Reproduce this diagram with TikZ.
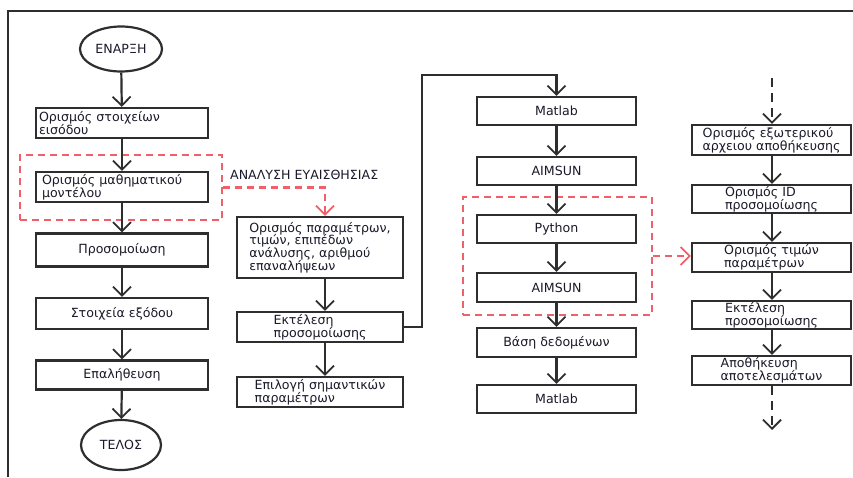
\documentclass[tikz,border=0pt]{standalone}
\usepackage{fontspec}
\setmainfont{DejaVu Sans}
\usetikzlibrary{arrows.meta,shapes.geometric}
\definecolor{ln}{HTML}{2E2E2E}
\definecolor{rd}{HTML}{F0606A}
\definecolor{tx}{HTML}{1A1A2A}
\begin{document}
\begin{tikzpicture}[x=1pt,y=-1pt,
  every node/.style={text=tx},
  fnt/.style={font=\fontsize{12.6}{12.8}\selectfont},
  box/.style={draw=ln, line width=2.2pt, fill=white, inner sep=1pt, align=left, fnt},
  term/.style={draw=ln, line width=2.2pt, ellipse, inner sep=0pt, fnt},
  tip/.style={-{Straight Barb[length=9pt,width=18pt,line width=1.8pt]}},
  arr/.style={draw=ln, line width=2.2pt, tip},
  rbox/.style={draw=rd, line width=2.2pt, dash pattern=on 7pt off 5pt, inner sep=0pt},
  rarr/.style={draw=rd, line width=2.2pt, dash pattern=on 7pt off 5pt, tip},
  darr/.style={draw=ln, line width=2.2pt, dash pattern=on 9pt off 6pt, tip}
]
\useasboundingbox (0,0) rectangle (853,477);
% frame
\draw[ln, line width=2.4pt] (8,477) -- (8,11) -- (853,11);

% left column
\node[term, minimum width=82pt, minimum height=45pt] (start) at (121,49) {ΕΝΑΡΞΗ};
\node[rbox, minimum width=202pt, minimum height=65pt] (red1) at (121,187.5) {};
\node[box, minimum width=172pt, minimum height=30pt, text width=166pt] (l1) at (122,123) {Ορισμός στοιχείων\\εισόδου};
\node[box, minimum width=172pt, minimum height=30pt, text width=166pt] (l2) at (122,187) {\hspace*{3pt}Ορισμός μαθηματικού\\\hspace*{3pt}μοντέλου};
\node[box, minimum width=172pt, minimum height=33pt, align=center] (l3) at (122,250) {Προσομοίωση};
\node[box, minimum width=172pt, minimum height=31pt, align=center] (l4) at (122,313.5) {Στοιχεία εξόδου};
\node[box, minimum width=172pt, minimum height=29pt, align=center] (l5) at (122,375) {Επαλήθευση};
\node[term, minimum width=80pt, minimum height=50pt] (end) at (121,445) {ΤΕΛΟΣ};

\draw[arr] (start) -- (l1);
\draw[arr] (l1) -- (l2);
\draw[arr] (l2) -- (l3);
\draw[arr] (l3) -- (l4);
\draw[arr] (l4) -- (l5);
\draw[arr] (l5) -- (end);

% middle column
\node[fnt, anchor=west, inner sep=0pt] (lbl) at (230,175) {ΑΝΑΛΥΣΗ ΕΥΑΙΣΘΗΣΙΑΣ};
\node[box, minimum width=166pt, minimum height=61pt] (m1) at (320,247.5) {Ορισμός παραμέτρων,\\τιμών, επιπέδων\\ανάλυσης, αριθμού\\επαναλήψεων};
\node[box, minimum width=166pt, minimum height=30pt] (m2) at (320,327) {Εκτέλεση\\προσομοίωσης};
\node[box, minimum width=166pt, minimum height=30pt] (m3) at (320,392) {Επιλογή σημαντικών\\παραμέτρων};
\draw[rarr] (red1.east) -| ([xshift=5pt]m1.north);
\draw[arr] ([xshift=5pt]m1.south) -- ([xshift=5pt]m2.north);
\draw[arr] ([xshift=5pt]m2.south) -- ([xshift=5pt]m3.north);

% third column
\node[rbox, minimum width=189pt, minimum height=118pt] (red2) at (557.5,256) {};
\node[box, minimum width=159pt, minimum height=28pt, align=center] (t1) at (556.5,111) {Matlab};
\node[box, minimum width=159pt, minimum height=28pt, align=center] (t2) at (556.5,171) {AIMSUN};
\node[box, minimum width=159pt, minimum height=28pt, align=center] (t3) at (556.5,229) {Python};
\node[box, minimum width=159pt, minimum height=29pt, align=center] (t4) at (556.5,287.5) {AIMSUN};
\node[box, minimum width=159pt, minimum height=29pt, align=center] (t5) at (556.5,342.5) {Βάση δεδομένων};
\node[box, minimum width=159pt, minimum height=28pt, align=center] (t6) at (556.5,399) {Matlab};
\coordinate (turn) at (422,75);
\draw[arr] (m2.east) -| (turn) -| (t1.north);
\draw[arr] (t1) -- (t2);
\draw[arr] (t2) -- (t3);
\draw[arr] (t3) -- (t4);
\draw[arr] (t4) -- (t5);
\draw[arr] (t5) -- (t6);

% fourth column
\node[box, minimum width=159pt, minimum height=30pt] (f1) at (771.5,140) {Ορισμός εξωτερικού\\αρχειου αποθήκευσης};
\node[box, minimum width=159pt, minimum height=28pt] (f2) at (771.5,199) {Ορισμός ID\\προσομοίωσης};
\node[box, minimum width=159pt, minimum height=29pt] (f3) at (771.5,257.5) {Ορισμός τιμών\\παραμέτρων};
\node[box, minimum width=159pt, minimum height=28pt] (f4) at (771.5,315) {Εκτέλεση\\προσομοίωσης};
\node[box, minimum width=159pt, minimum height=29pt] (f5) at (771.5,370.5) {Αποθήκευση\\αποτελεσμάτων};
\coordinate (ftop) at (772,78);
\coordinate (fbot) at (772,430);
\draw[darr] (ftop) -- (f1.north -| ftop);
\draw[arr] (f1.south -| ftop) -- (f2.north -| ftop);
\draw[arr] (f2.south -| ftop) -- (f3.north -| ftop);
\draw[arr] (f3.south -| ftop) -- (f4.north -| ftop);
\draw[arr] (f4.south -| ftop) -- (f5.north -| ftop);
\draw[darr] (f5.south -| ftop) -- (fbot);
\draw[rarr] (red2.east) -- (red2.east -| f3.west);
\end{tikzpicture}
\end{document}
